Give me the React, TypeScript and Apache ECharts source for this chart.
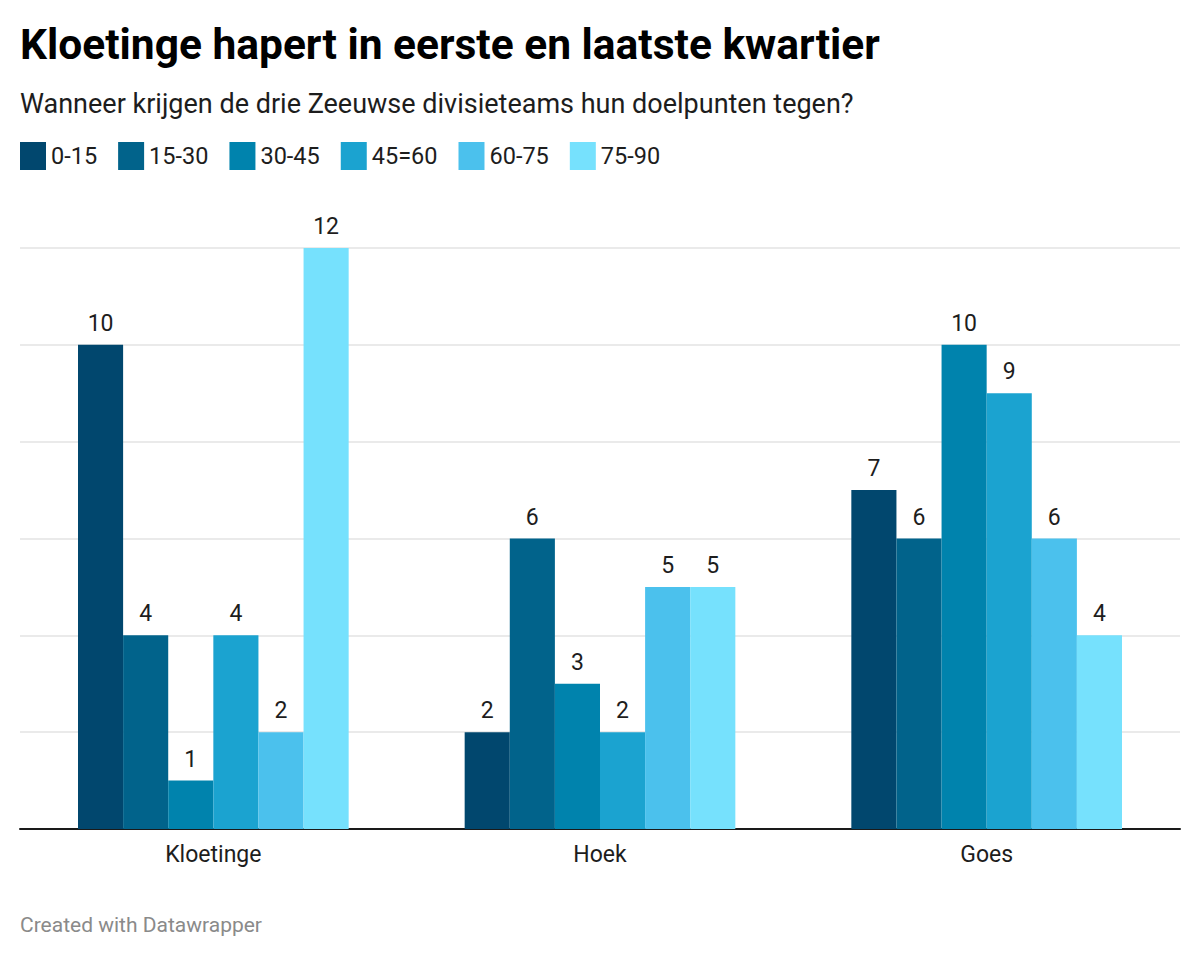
import { useEffect, useRef } from 'react';
import * as echarts from 'echarts';

const teams = ['Kloetinge', 'Hoek', 'Goes'];
const periods = ['0-15', '15-30', '30-45', '45=60', '60-75', '75-90'];
const periodColors = ['#01476e', '#01638b', '#0083ad', '#1ba3d0', '#4bc1ed', '#76e1fd'];
// goals conceded per period, one array per team
const kloetinge = [10, 4, 1, 4, 2, 12];
const hoek = [2, 6, 3, 2, 5, 5];
const goes = [7, 6, 10, 9, 6, 4];

const yTicks = [0, 2, 4, 6, 8, 10, 12];

export default function App() {
  const chartRef = useRef<HTMLDivElement>(null);

  useEffect(() => {
    if (!chartRef.current) return;
    document.body.style.margin = '0';

    const chart = echarts.init(chartRef.current, null, { renderer: 'svg' });
    const font = 'Roboto, "Noto Sans", sans-serif';
    const perTeam = [kloetinge, hoek, goes];

    const series = periods.map((p, i) => ({
      name: p,
      type: 'bar',
      data: perTeam.map(row => row[i]),
      barGap: '0%',
      barCategoryGap: '30%',
      itemStyle: { color: periodColors[i] },
      label: {
        show: true,
        position: 'top',
        distance: 10,
        fontSize: 23,
        fontFamily: font,
        color: '#1d1d1d',
      },
    }));

    chart.setOption({
      animation: false,
      backgroundColor: '#fff',
      title: [
        {
          text: 'Kloetinge hapert in eerste en laatste kwartier',
          left: 20,
          top: 23,
          padding: 0,
          textStyle: { fontFamily: font, fontSize: 42.5, fontWeight: 'bold', color: '#000' },
        },
        {
          text: 'Wanneer krijgen de drie Zeeuwse divisieteams hun doelpunten tegen?',
          left: 20,
          top: 90,
          padding: 0,
          textStyle: { fontFamily: font, fontSize: 27, fontWeight: 'normal', color: '#1d1d1d' },
        },
        {
          text: 'Created with Datawrapper',
          left: 20,
          top: 914,
          padding: 0,
          textStyle: { fontFamily: font, fontSize: 21, fontWeight: 'normal', color: '#8a8a8a' },
        },
      ],
      legend: {
        data: periods,
        left: 20,
        top: 142,
        padding: 0,
        icon: 'rect',
        itemWidth: 26,
        itemHeight: 28,
        itemGap: 21,
        textStyle: { fontFamily: font, fontSize: 23.5, color: '#1d1d1d' },
        selectedMode: false,
      },
      grid: { left: 20, right: 20, top: 248, bottom: 127, containLabel: false },
      xAxis: {
        type: 'category',
        data: teams,
        axisLine: { lineStyle: { color: '#1a1a1a', width: 2 } },
        axisTick: { show: false },
        axisLabel: { fontFamily: font, fontSize: 23, color: '#1d1d1d', margin: 14 },
      },
      yAxis: {
        type: 'value',
        min: yTicks[0],
        max: yTicks[yTicks.length - 1],
        interval: 2,
        axisLabel: { show: false },
        axisLine: { show: false },
        axisTick: { show: false },
        splitLine: { lineStyle: { color: '#e3e3e3', width: 1.5 } },
      },
      series,
    });

    return () => {
      chart.dispose();
    };
  }, []);

  return <div ref={chartRef} style={{ width: '1200px', height: '956px' }} />;
}
